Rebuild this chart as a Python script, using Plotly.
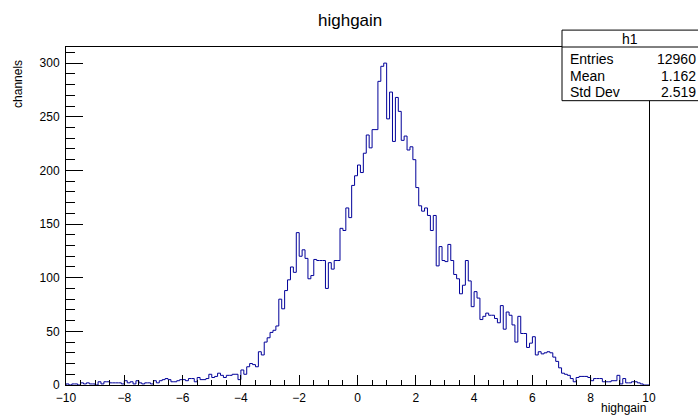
import numpy as np
import plotly.graph_objects as go

# Histogram "h1": 200 bins of width 0.1 on [-10, 10]
x_min, x_max, n_bins = -10.0, 10.0, 200
counts = [
    1, 0, 1, 1, 0, 2, 1, 2, 1, 1,
    0, 3, 1, 3, 3, 2, 2, 2, 2, 1,
    4, 2, 3, 1, 4, 2, 1, 2, 2, 1,
    4, 2, 4, 5, 6, 5, 3, 3, 4, 5,
    5, 4, 6, 6, 3, 7, 5, 5, 6, 10,
    7, 8, 11, 9, 7, 9, 9, 10, 10, 5,
    14, 10, 17, 20, 19, 17, 31, 28, 40, 44,
    49, 51, 55, 80, 71, 88, 98, 110, 105, 142,
    120, 126, 118, 99, 102, 117, 116, 116, 116, 90,
    114, 108, 116, 116, 146, 144, 165, 156, 186, 195,
    205, 198, 216, 233, 221, 238, 238, 283, 297, 300,
    248, 273, 227, 268, 255, 228, 232, 219, 222, 210,
    184, 167, 162, 165, 158, 144, 158, 111, 129, 116,
    115, 131, 116, 103, 99, 85, 93, 116, 97, 73,
    87, 81, 61, 64, 67, 65, 65, 62, 58, 74,
    52, 68, 65, 56, 40, 64, 48, 48, 35, 39,
    45, 28, 31, 29, 30, 31, 30, 26, 22, 16,
    11, 10, 9, 6, 3, 7, 8, 8, 8, 7,
    4, 6, 6, 6, 3, 3, 3, 4, 4, 9,
    1, 6, 2, 2, 3, 3, 2, 1, 0, 0,
]
stat_labels = ["Entries", "Mean", "Std Dev"]
stat_values = ["12960", "1.162", "2.519"]
hist_name = "h1"
title = "highgain"
x_title = "highgain"
y_title = "channels"
x_ticks = list(range(-10, 11, 2))
y_ticks = list(range(0, 301, 50))

edges = np.linspace(x_min, x_max, n_bins + 1)
step_x = [edges[0]] + list(edges) + [edges[-1]]
step_y = [0] + counts + [counts[-1]] + [0]

FONT = "Liberation Sans, Arial, Helvetica, sans-serif"
W, H = 698, 417
L, R, T, B = 66, 49, 47, 30
pw, ph = W - L - R, H - T - B


def px(xp):
    return (xp - L) / pw


def py(yp):
    return (H - B - yp) / ph


fig = go.Figure()
fig.add_trace(go.Scatter(
    x=step_x, y=step_y, mode="lines", line_shape="hv",
    line=dict(color="#000099", width=1), hoverinfo="skip", showlegend=False,
))

axis_common = dict(
    showline=True, linecolor="black", linewidth=1, mirror=True,
    ticks="inside", tickcolor="black", tickwidth=1,
    showgrid=False, zeroline=False,
    tickfont=dict(family=FONT, size=12, color="black"),
)
fig.update_xaxes(
    range=[x_min, x_max], tickvals=x_ticks, ticklen=10, ticklabelstandoff=2,
    minor=dict(ticks="inside", dtick=0.5, ticklen=5, tickcolor="black", showgrid=False),
    **axis_common,
)
fig.update_yaxes(
    range=[0, 315], tickvals=y_ticks, ticklen=17, ticklabelstandoff=3,
    minor=dict(ticks="inside", dtick=10, ticklen=9, tickcolor="black", showgrid=False),
    **axis_common,
)

annotations = [
    dict(text=title, xref="paper", yref="paper", x=px(350), y=py(20),
         xanchor="center", yanchor="middle", showarrow=False,
         font=dict(family=FONT, size=17, color="black")),
    dict(text=x_title, xref="paper", yref="paper", x=px(648), y=py(410),
         xanchor="right", yanchor="middle", showarrow=False,
         font=dict(family=FONT, size=12, color="black")),
    dict(text=y_title, xref="paper", yref="paper", x=px(18), y=py(58),
         xanchor="center", yanchor="top", textangle=-90, showarrow=False,
         font=dict(family=FONT, size=12, color="black")),
]

# Statistics box
box_l, box_r, box_t, box_div, box_b = 562, 720, 30, 47, 101
shapes = [
    dict(type="rect", xref="paper", yref="paper", x0=px(box_l), x1=px(box_r),
         y0=py(box_b), y1=py(box_t), line=dict(color="black", width=1),
         fillcolor="white", layer="above"),
    dict(type="line", xref="paper", yref="paper", x0=px(box_l), x1=px(box_r),
         y0=py(box_div), y1=py(box_div), line=dict(color="black", width=1),
         layer="above"),
]
annotations.append(dict(text=hist_name, xref="paper", yref="paper", x=px(630), y=py(39),
                        xanchor="center", yanchor="middle", showarrow=False,
                        font=dict(family=FONT, size=14, color="black")))
row_y = [59, 76, 92]
for lab, val, yy in zip(stat_labels, stat_values, row_y):
    annotations.append(dict(text=lab, xref="paper", yref="paper", x=px(568), y=py(yy),
                            xanchor="left", yanchor="middle", showarrow=False,
                            font=dict(family=FONT, size=14, color="black")))
    annotations.append(dict(text=val, xref="paper", yref="paper", x=px(698), y=py(yy),
                            xanchor="right", yanchor="middle", showarrow=False,
                            font=dict(family=FONT, size=14, color="black")))

fig.update_layout(
    width=W, height=H,
    margin=dict(l=L, r=R, t=T, b=B, pad=0),
    paper_bgcolor="white", plot_bgcolor="white",
    annotations=annotations, shapes=shapes, showlegend=False,
)

fig.write_html("out.html")
